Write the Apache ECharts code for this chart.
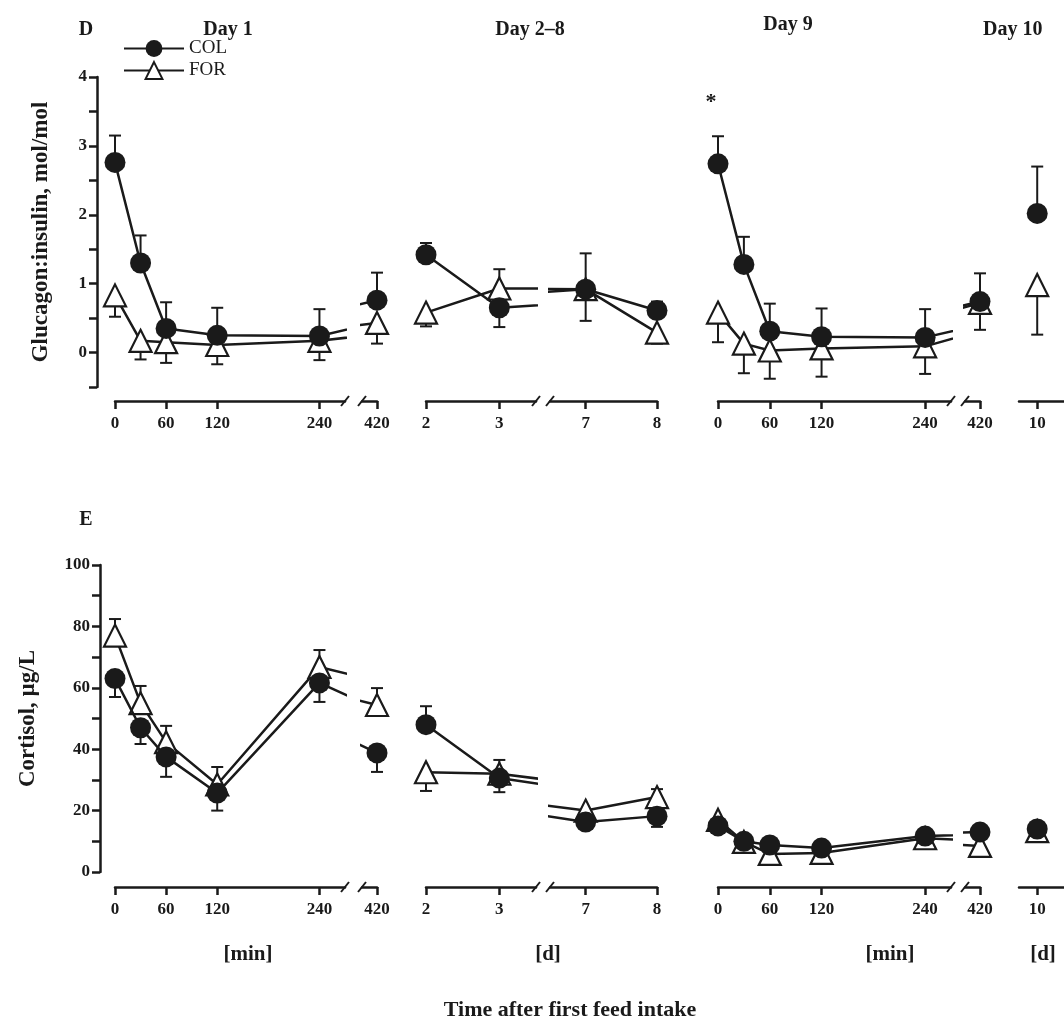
<!DOCTYPE html>
<html>
<head>
    <title>Glucagon:insulin and cortisol</title>
    <script src="https://cdn.jsdelivr.net/npm/echarts@6/dist/echarts.min.js"></script>
    <style>
        body { margin: 0; background: #fff; }
        #chart { width: 1064px; height: 1019px; }
    </style>
</head>
<body>
    <div id="chart"></div>
    <script>
        // x values
        const minutes = [0, 30, 60, 120, 240, 420];
        const days = [2, 3, 7, 8];
        const day10 = [10];

        // Panel D: glucagon:insulin
        const glucCol1 = [2.76, 1.30, 0.35, 0.25, 0.24, 0.76];
        const glucColErr1 = [3.15, 1.70, 0.73, 0.65, 0.63, 1.16];
        const glucFor1 = [0.83, 0.17, 0.15, 0.11, 0.17, 0.43];
        const glucForErr1 = [0.52, -0.10, -0.15, -0.17, -0.11, 0.13];
        const glucColD = [1.42, 0.65, 0.92, 0.61];
        const glucColErrD = [1.59, 0.37, 1.44, 0.74];
        const glucForD = [0.58, 0.93, 0.92, 0.29];
        const glucForErrD = [0.38, 1.21, 0.46, 0.13];
        const glucCol9 = [2.74, 1.28, 0.31, 0.23, 0.22, 0.74];
        const glucColErr9 = [3.14, 1.68, 0.71, 0.64, 0.63, 1.15];
        const glucFor9 = [0.58, 0.13, 0.03, 0.06, 0.09, 0.72];
        const glucForErr9 = [0.15, -0.30, -0.38, -0.35, -0.31, 0.33];
        const glucCol10 = [2.02];
        const glucColErr10 = [2.70];
        const glucFor10 = [0.98];
        const glucForErr10 = [0.26];

        // Panel E: cortisol
        const cortCol1 = [63, 47, 37.5, 25.7, 61.6, 38.8];
        const cortColErr1 = [57, 41.7, 31, 20, 55.4, 32.6];
        const cortFor1 = [77, 55, 42.3, 28.5, 66.8, 54.4];
        const cortForErr1 = [82.4, 60.6, 47.6, 34.2, 72.3, 59.9];
        const cortColD = [48, 30.6, 16.3, 18.2];
        const cortColErrD = [54, 26, null, 14.7];
        const cortForD = [32.5, 32, 20, 24.4];
        const cortForErrD = [26.4, 36.5, null, 27];
        const cortCol9 = [15, 10, 8.8, 7.8, 11.7, 13];
        const cortFor9 = [17, 9.8, 5.9, 6.2, 11, 8.5];
        const cortCol10 = [14];
        const cortFor10 = [13.3];

        const FONT = '"Liberation Serif", "DejaVu Serif", serif';
        const INK = '#1a1a1a';

        // horizontal segments of the broken x axis
        const segs = [
            { left: 115, width: 230, min: 0, max: 270, ticks: [0, 60, 120, 240], brkR: true },
            { left: 362, width: 15, min: 402, max: 420, ticks: [420], brkL: true },
            { left: 426, width: 110, min: 2, max: 3.5, ticks: [2, 3], brkR: true },
            { left: 550, width: 107, min: 6.5, max: 8, ticks: [7, 8], brkL: true },
            { left: 718, width: 233, min: 0, max: 270, ticks: [0, 60, 120, 240], brkR: true },
            { left: 965, width: 15, min: 402.6, max: 420, ticks: [420], brkL: true },
            { left: 1019, width: 60, min: 9.66, max: 10.5, ticks: [10] }
        ];

        const panels = [
            {
                top: 77, height: 310, min: -0.5, max: 4, interval: 0.5, labels: [0, 1, 2, 3, 4],
                name: 'Glucagon:insulin, mol/mol', nameGap: 44, offset: 18, axisY: 401,
                data: [
                    [minutes, glucCol1, glucColErr1, glucFor1, glucForErr1],
                    [minutes, glucCol1, glucColErr1, glucFor1, glucForErr1],
                    [days, glucColD, glucColErrD, glucForD, glucForErrD],
                    [days, glucColD, glucColErrD, glucForD, glucForErrD],
                    [minutes, glucCol9, glucColErr9, glucFor9, glucForErr9],
                    [minutes, glucCol9, glucColErr9, glucFor9, glucForErr9],
                    [day10, glucCol10, glucColErr10, glucFor10, glucForErr10]
                ]
            },
            {
                top: 565, height: 307, min: 0, max: 100, interval: 10, labels: [0, 20, 40, 60, 80, 100],
                name: 'Cortisol, µg/L', nameGap: 60, offset: 15, axisY: 887,
                data: [
                    [minutes, cortCol1, cortColErr1, cortFor1, cortForErr1],
                    [minutes, cortCol1, cortColErr1, cortFor1, cortForErr1],
                    [days, cortColD, cortColErrD, cortForD, cortForErrD],
                    [days, cortColD, cortColErrD, cortForD, cortForErrD],
                    [minutes, cortCol9, null, cortFor9, null],
                    [minutes, cortCol9, null, cortFor9, null],
                    [day10, cortCol10, null, cortFor10, null]
                ]
            }
        ];

        const grid = [], xAxis = [], yAxis = [], series = [], graphic = [];

        function errorBars(xs, ys, ends, seg, idx) {
            const pts = [];
            if (!ends) return null;
            xs.forEach((x, i) => {
                if (ends[i] != null && x >= seg.min && x <= seg.max) pts.push([x, ys[i], ends[i]]);
            });
            return {
                type: 'custom', xAxisIndex: idx, yAxisIndex: idx, z: 1, silent: true,
                data: pts,
                renderItem: function (params, api) {
                    const p0 = api.coord([api.value(0), api.value(1)]);
                    const p1 = api.coord([api.value(0), api.value(2)]);
                    const st = { stroke: INK, lineWidth: 2 };
                    return {
                        type: 'group', children: [
                            { type: 'line', shape: { x1: p0[0], y1: p0[1], x2: p1[0], y2: p1[1] }, style: st },
                            { type: 'line', shape: { x1: p1[0] - 6, y1: p1[1], x2: p1[0] + 6, y2: p1[1] }, style: st }
                        ]
                    };
                }
            };
        }

        panels.forEach((p, pi) => {
            segs.forEach((s, si) => {
                const idx = pi * segs.length + si;
                grid.push({ left: s.left, width: s.width, top: p.top, height: p.height });
                xAxis.push({
                    type: 'value', gridIndex: idx, min: s.min, max: s.max,
                    position: 'bottom', offset: p.axisY - p.top - p.height,
                    splitLine: { show: false },
                    axisLine: { show: true, onZero: false, lineStyle: { color: INK, width: 2.5 } },
                    axisTick: { show: true, customValues: s.ticks, length: 8, lineStyle: { color: INK, width: 2.5 } },
                    axisLabel: { customValues: s.ticks, margin: 14, color: INK, fontFamily: FONT, fontWeight: 'bold', fontSize: 17 }
                });
                yAxis.push({
                    type: 'value', gridIndex: idx, min: p.min, max: p.max, interval: p.interval,
                    show: si === 0, offset: p.offset,
                    name: si === 0 ? p.name : '', nameLocation: 'middle', nameGap: p.nameGap,
                    nameTextStyle: { color: INK, fontFamily: FONT, fontWeight: 'bold', fontSize: 23 },
                    splitLine: { show: false },
                    axisLine: { show: true, onZero: false, lineStyle: { color: INK, width: 2.5 } },
                    axisTick: { show: true, length: 8, lineStyle: { color: INK, width: 2.5 } },
                    axisLabel: { customValues: p.labels, margin: 10, color: INK, fontFamily: FONT, fontWeight: 'bold', fontSize: 17 }
                });
                const [xs, col, colErr, forr, forErr] = p.data[si];
                const common = {
                    type: 'line', xAxisIndex: idx, yAxisIndex: idx, clip: true, z: 3,
                    symbolSize: 21, lineStyle: { color: INK, width: 2.5 }, silent: true
                };
                series.push(Object.assign({}, common, {
                    name: 'FOR', symbol: 'triangle', symbolSize: 22,
                    itemStyle: { color: '#fff', borderColor: INK, borderWidth: 2.2 },
                    data: xs.map((x, i) => [x, forr[i]])
                }));
                series.push(Object.assign({}, common, {
                    name: 'COL', symbol: 'circle', z: 4,
                    itemStyle: { color: INK },
                    data: xs.map((x, i) => [x, col[i]])
                }));
                const e1 = errorBars(xs, col, colErr, s, idx);
                const e2 = errorBars(xs, forr, forErr, s, idx);
                if (e1) series.push(e1);
                if (e2) series.push(e2);

                // break marks on the axis
                const brk = (x) => graphic.push({
                    type: 'line', shape: { x1: x - 4, y1: p.axisY + 5, x2: x + 4, y2: p.axisY - 5 },
                    style: { stroke: INK, lineWidth: 2 }
                });
                if (s.brkR) brk(s.left + s.width);
                if (s.brkL) brk(s.left);
            });
        });

        const txt = (x, y, t, size, align) => graphic.push({
            type: 'text', x: x, y: y,
            style: { text: t, fill: INK, font: 'bold ' + size + 'px ' + FONT, align: align || 'center', verticalAlign: 'middle' }
        });
        txt(86, 30, 'D', 20);
        txt(228, 30, 'Day 1', 20);
        txt(530, 30, 'Day 2–8', 20);
        txt(788, 25, 'Day 9', 20);
        txt(983, 30, 'Day 10', 20, 'left');
        txt(711, 102, '*', 22);
        txt(86, 520, 'E', 20);
        txt(248, 955, '[min]', 21);
        txt(548, 955, '[d]', 21);
        txt(890, 955, '[min]', 21);
        txt(1043, 955, '[d]', 21);
        txt(570, 1010, 'Time after first feed intake', 22);

        const chart = echarts.init(document.getElementById('chart'));
        chart.setOption({
            animation: false,
            backgroundColor: '#fff',
            legend: {
                data: ['COL', 'FOR'], orient: 'vertical', left: 118, top: 34,
                itemWidth: 60, itemHeight: 21, itemGap: 3, selectedMode: false,
                textStyle: { color: INK, fontFamily: FONT, fontSize: 19 }
            },
            grid: grid, xAxis: xAxis, yAxis: yAxis, series: series, graphic: graphic
        });
    </script>
</body>
</html>
